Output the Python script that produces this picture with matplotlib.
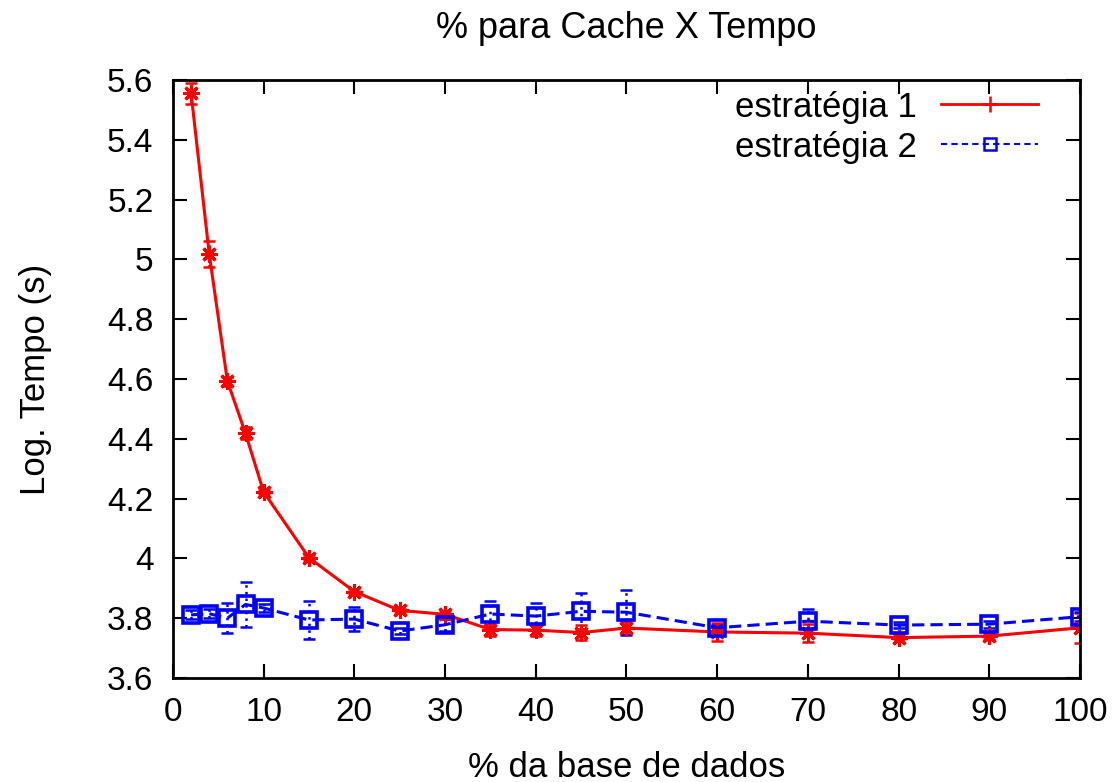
import matplotlib
matplotlib.use("Agg")
import matplotlib.pyplot as plt
from matplotlib.lines import Line2D

plt.rcParams['font.family'] = ['Liberation Sans', 'DejaVu Sans']

# % da base de dados
x = [2, 4, 6, 8, 10, 15, 20, 25, 30, 35, 40, 45, 50, 60, 70, 80, 90, 100]

# estratégia 1
y1 = [5.555, 5.018, 4.593, 4.418, 4.222, 4.002, 3.889, 3.826, 3.813, 3.762,
      3.760, 3.752, 3.767, 3.754, 3.750, 3.735, 3.740, 3.768]
e1 = [0.035, 0.045, 0.015, 0.02, 0.008, 0.008, 0.008, 0.006, 0.01, 0.02,
      0.02, 0.025, 0.02, 0.03, 0.03, 0.006, 0.008, 0.05]

# estratégia 2
y2 = [3.811, 3.815, 3.800, 3.846, 3.834, 3.794, 3.797, 3.757, 3.778, 3.814,
      3.807, 3.823, 3.820, 3.768, 3.790, 3.777, 3.780, 3.805]
e2 = [0.015, 0.015, 0.05, 0.075, 0.012, 0.063, 0.04, 0.01, 0.02, 0.045,
      0.045, 0.06, 0.075, 0.01, 0.04, 0.01, 0.012, 0.015]

fig = plt.figure(figsize=(11.18, 7.82), dpi=100)
ax = fig.add_axes([0.1547, 0.133, 0.8113, 0.7647])

red = '#ff0000'
blue = '#0000ff'

# barras de erro pontilhadas (estilo gnuplot)
for y, e, c in [(y1, e1, red), (y2, e2, blue)]:
    eb = ax.errorbar(x, y, yerr=e, fmt='none', ecolor=c, elinewidth=1.8,
                     capsize=4, capthick=1.8)
    eb[2][0].set_linestyle(':')

ax.plot(x, y1, color=red, lw=2.2, marker=(8, 2, 0), ms=12, mew=2.2)
ax.plot(x, y2, color=blue, lw=2.2, ls=(0, (4, 2)), marker='s', ms=12,
        mfc='none', mew=2.6)

ax.set_xlim(0, 100)
ax.set_ylim(3.6, 5.6)
ax.set_xticks(range(0, 101, 10))
ax.set_yticks([3.6, 3.8, 4.0, 4.2, 4.4, 4.6, 4.8, 5.0, 5.2, 5.4, 5.6])
ax.set_yticklabels(['3.6', '3.8', '4', '4.2', '4.4', '4.6', '4.8', '5',
                    '5.2', '5.4', '5.6'])
ax.tick_params(direction='in', length=10, width=1.5, labelsize=24,
               top=True, right=True, pad=14)
for s in ax.spines.values():
    s.set_linewidth(2)

ax.set_title('% para Cache X Tempo', fontsize=26, pad=30)
ax.set_xlabel('% da base de dados', fontsize=25, labelpad=16)
ax.set_ylabel('Log. Tempo (s)', fontsize=25, labelpad=40)

handles = [
    Line2D([], [], color=red, lw=2, marker='+', ms=12, mew=1.8),
    Line2D([], [], color=blue, lw=1.5, ls=(0, (3, 2)), marker='s', ms=8,
           mfc='none', mew=1.8),
]
ax.legend(handles, ['estratégia 1', 'estratégia 2'], loc='upper right',
          bbox_to_anchor=(1.0, 1.052), frameon=False, markerfirst=False,
          fontsize=25, handlelength=2.8, labelspacing=0.2, borderaxespad=0.8,
          handletextpad=0.7)

fig.savefig('out.png', dpi=100)
